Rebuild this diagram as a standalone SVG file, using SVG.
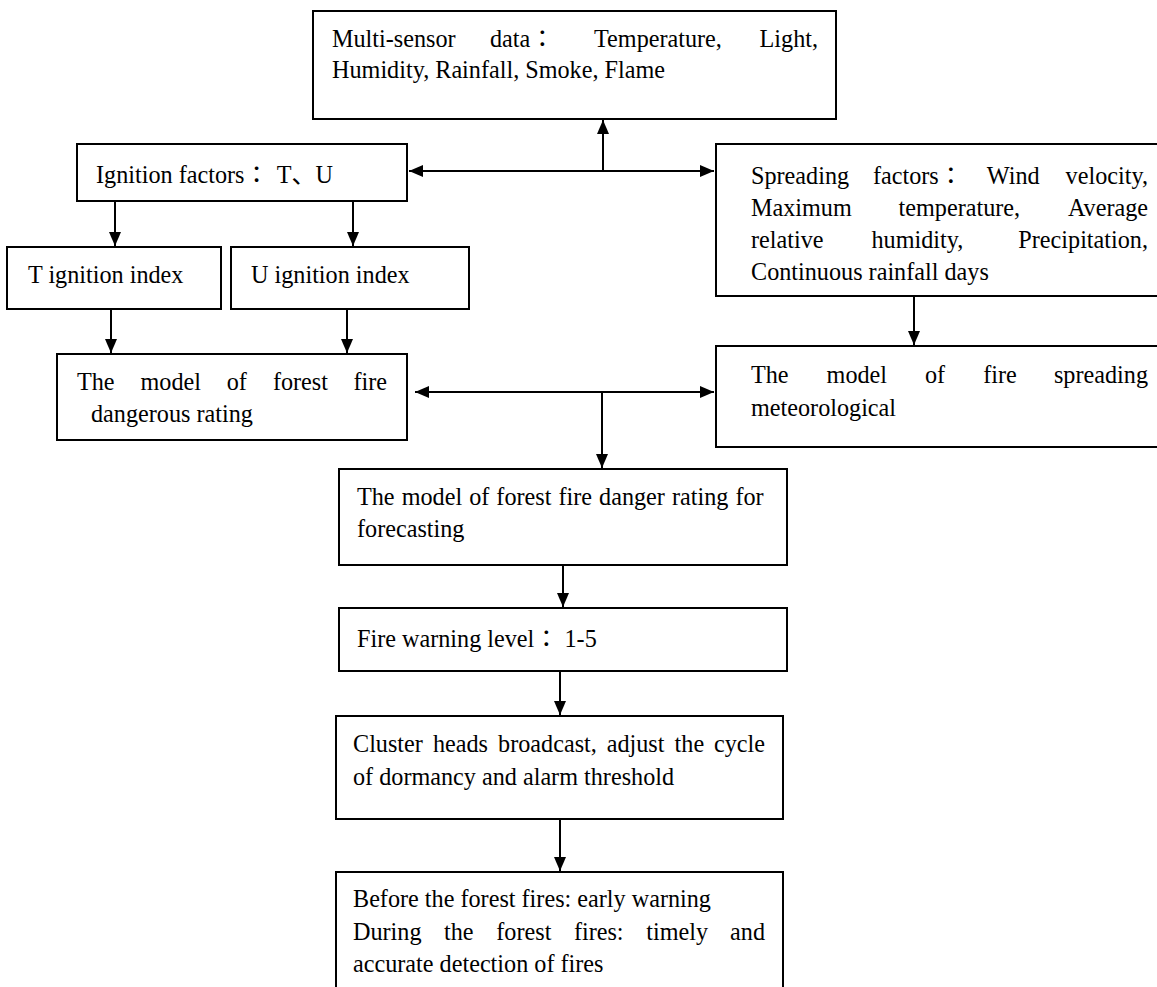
<svg xmlns="http://www.w3.org/2000/svg" width="1157" height="987" viewBox="0 0 1157 987">
<defs>
<style>
.box{fill:#fff;stroke:#000;stroke-width:2}
.t{font-family:"Liberation Serif","Noto Sans CJK JP",serif;font-size:24.2px;fill:#000}
.c{fill:none;stroke:#000;stroke-width:2}
</style>
<marker id="ah" markerUnits="userSpaceOnUse" viewBox="0 0 14 12" markerWidth="14" markerHeight="12" refX="14" refY="6" orient="auto-start-reverse">
<path d="M0,0 L14,6 L0,12 z" fill="#000"/>
</marker>
</defs>
<rect width="1157" height="987" fill="#fff"/>

<g id="connectors">
<path class="c" d="M409,171 H714" marker-start="url(#ah)" marker-end="url(#ah)"/>
<path class="c" d="M603,171 V120" marker-end="url(#ah)"/>
<path class="c" d="M115,201 V246" marker-end="url(#ah)"/>
<path class="c" d="M353,201 V246" marker-end="url(#ah)"/>
<path class="c" d="M111,309 V353" marker-end="url(#ah)"/>
<path class="c" d="M347,309 V353" marker-end="url(#ah)"/>
<path class="c" d="M914,296 V345" marker-end="url(#ah)"/>
<path class="c" d="M415,392 H714" marker-start="url(#ah)" marker-end="url(#ah)"/>
<path class="c" d="M602,392 V468" marker-end="url(#ah)"/>
<path class="c" d="M563,565 V607" marker-end="url(#ah)"/>
<path class="c" d="M560,671 V715" marker-end="url(#ah)"/>
<path class="c" d="M560,819 V871" marker-end="url(#ah)"/>
</g>

<g id="n-sensor">
<rect class="box" x="313" y="11" width="523" height="108"/>
<text class="t" y="47"><tspan x="332">Multi-sensor</tspan><tspan x="490">data：</tspan><tspan x="594">Temperature,</tspan><tspan x="818" text-anchor="end">Light,</tspan></text>
<text class="t" x="332" y="78">Humidity, Rainfall, Smoke, Flame</text>
</g>

<g id="n-ignition">
<rect class="box" x="77" y="144" width="330" height="57"/>
<text class="t" x="96" y="183">Ignition factors：<tspan dx="8">T、U</tspan></text>
</g>

<g id="n-spreading">
<rect class="box" x="716" y="144" width="450" height="152"/>
<text class="t" y="184"><tspan x="751">Spreading</tspan><tspan x="872.9">factors：</tspan><tspan x="986.8">Wind</tspan><tspan x="1148" text-anchor="end">velocity,</tspan></text>
<text class="t" y="216"><tspan x="751">Maximum</tspan><tspan x="898.6">temperature,</tspan><tspan x="1148" text-anchor="end">Average</tspan></text>
<text class="t" y="248"><tspan x="751">relative</tspan><tspan x="871.5">humidity,</tspan><tspan x="1148" text-anchor="end">Precipitation,</tspan></text>
<text class="t" x="751" y="280">Continuous rainfall days</text>
</g>

<g id="n-tindex">
<rect class="box" x="7" y="247" width="214" height="62"/>
<text class="t" x="28" y="283">T ignition index</text>
</g>

<g id="n-uindex">
<rect class="box" x="231" y="247" width="238" height="62"/>
<text class="t" x="251" y="283">U ignition index</text>
</g>

<g id="n-danger-model">
<rect class="box" x="57" y="354" width="350" height="86"/>
<text class="t" y="390"><tspan x="77">The</tspan><tspan x="140.5">model</tspan><tspan x="226.7">of</tspan><tspan x="272.9">forest</tspan><tspan x="387" text-anchor="end">fire</tspan></text>
<text class="t" x="91" y="422">dangerous rating</text>
</g>

<g id="n-spread-model">
<rect class="box" x="716" y="346" width="450" height="101"/>
<text class="t" y="383"><tspan x="751">The</tspan><tspan x="826.6">model</tspan><tspan x="924.9">of</tspan><tspan x="983.2">fire</tspan><tspan x="1148" text-anchor="end">spreading</tspan></text>
<text class="t" x="751" y="416">meteorological</text>
</g>

<g id="n-forecast">
<rect class="box" x="339" y="469" width="448" height="96"/>
<text class="t" x="357" y="505" word-spacing="1">The model of forest fire danger rating for</text>
<text class="t" x="357" y="537">forecasting</text>
</g>

<g id="n-warning">
<rect class="box" x="339" y="608" width="448" height="63"/>
<text class="t" x="357" y="647">Fire warning level：<tspan dx="6">1-5</tspan></text>
</g>

<g id="n-cluster">
<rect class="box" x="336" y="716" width="447" height="103"/>
<text class="t" y="752"><tspan x="353">Cluster</tspan><tspan x="432.9">heads</tspan><tspan x="498.1">broadcast,</tspan><tspan x="606.7">adjust</tspan><tspan x="674.6">the</tspan><tspan x="765" text-anchor="end">cycle</tspan></text>
<text class="t" x="353" y="785">of dormancy and alarm threshold</text>
</g>

<g id="n-result">
<rect class="box" x="336" y="872" width="447" height="130"/>
<text class="t" x="353" y="907">Before the forest fires: early warning</text>
<text class="t" y="940"><tspan x="353">During</tspan><tspan x="444">the</tspan><tspan x="496.3">forest</tspan><tspan x="573.9">fires:</tspan><tspan x="646.2">timely</tspan><tspan x="765" text-anchor="end">and</tspan></text>
<text class="t" x="353" y="972">accurate detection of fires</text>
</g>
</svg>
